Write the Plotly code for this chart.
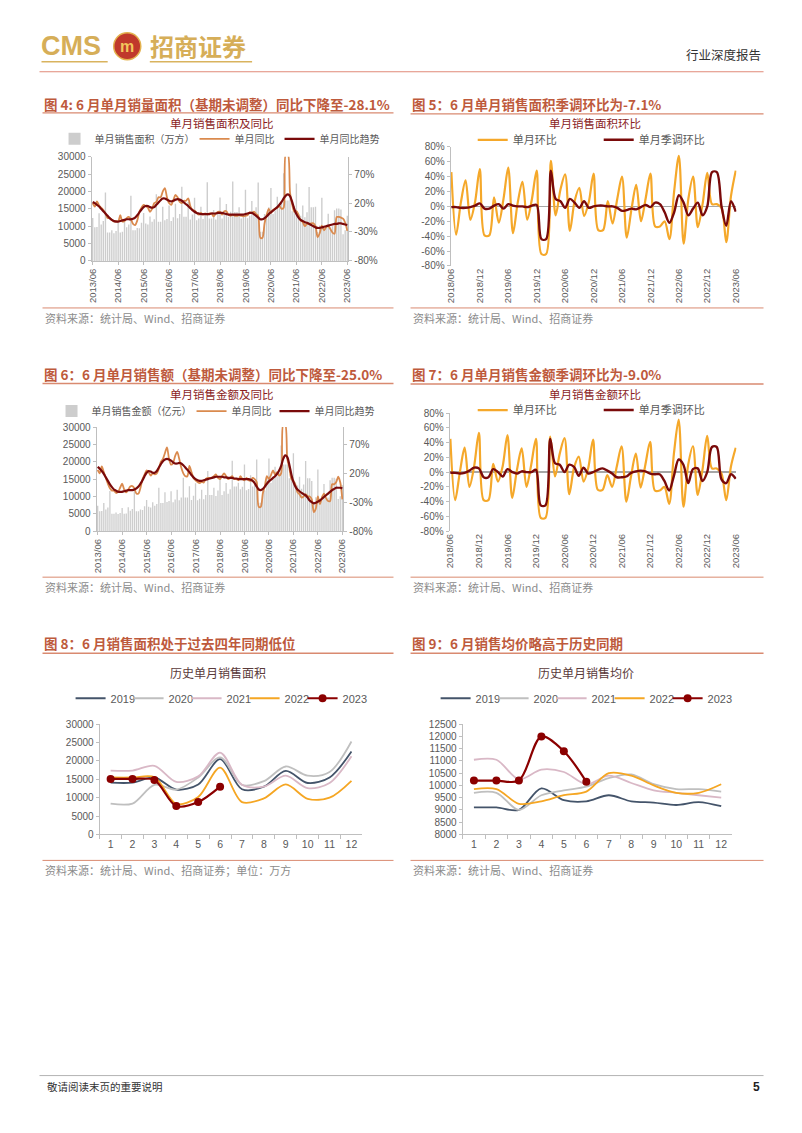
import plotly.graph_objects as go

W, H = 802, 1133
# page-pixel -> paper coordinates (small calibration for the capture)
OX, SX = 5.6, 0.986
OY, SY = 6.3, 0.9886
def X(p): return ((p - OX) / SX) / W
def Y(p): return 1 - ((p - OY) / SY) / H

NUM = "Liberation Sans, Arial, sans-serif"
CJK = "Noto Sans CJK SC, Noto Sans CJK JP, sans-serif"
TXT = "#595959"
AX = "#BFBFBF"

# ---------------- categories ----------------
months_all = [f"{yr}/{mo:02d}" for yr in range(2013, 2024) for mo in range(1, 13)]
months_long = months_all[5:126]      # 2013/06 .. 2023/06
months_short = months_all[65:126]    # 2018/06 .. 2023/06
ticks_long = months_long[::12]
ticks_short = months_short[::6]
month_cat = ["1", "2", "3", "4", "5", "6", "7", "8", "9", "10", "11", "12"]

# ---------------- monthly sales area (万方) ----------------
area_2013 = [12400, 9700, 9800, 13700, 10500, 11500, 19700]
area_2014 = [8200, 8200, 8800, 8000, 8600, 11000, 8200, 8400, 11300, 9700, 10500, 18800]
area_2015 = [8800, 8800, 9500, 9400, 11000, 13800, 10800, 10500, 12800, 11300, 12000, 19200]
area_2016 = [11300, 11300, 15600, 11700, 12100, 16000, 11500, 12600, 16500, 12300, 13500, 21400]
area_2017 = [12700, 12700, 17000, 11900, 13400, 18200, 11700, 12200, 15600, 12100, 13700, 22700]
area_2018 = [12200, 12200, 14700, 11900, 13800, 18300, 12200, 13500, 16400, 12700, 14200, 22900]
area_2019 = [14100, 14100, 15500, 12200, 13600, 20500, 12300, 13000, 17300, 14000, 15500, 22600]
area_2020 = [8400, 8400, 13500, 12200, 15500, 21000, 13500, 14500, 18500, 16000, 17000, 25300]
area_2021 = [17400, 17400, 18700, 14300, 15800, 22300, 13500, 13000, 16000, 12600, 14000, 21300]
area_2022 = [15500, 15500, 15600, 8300, 10200, 18200, 8800, 9800, 13600, 9700, 10000, 14600]
area_2023 = [15100, 15100, 14800, 7700, 8800, 13000]

# ---------------- monthly sales amount (亿元) ----------------
amt_2013 = [7300, 5700, 5800, 8100, 6200, 6800, 11600]
amt_2014 = [5000, 5000, 5400, 4900, 5200, 6700, 5000, 5100, 6900, 5900, 6400, 11500]
amt_2015 = [5700, 5700, 6200, 6100, 7200, 9000, 7000, 6800, 8300, 7300, 7800, 12500]
amt_2016 = [8100, 8100, 11200, 8400, 8700, 11500, 8300, 9100, 11900, 8900, 9700, 15400]
amt_2017 = [9700, 9700, 12900, 9000, 10200, 13800, 8900, 9300, 11900, 9200, 10400, 17300]
amt_2018 = [10400, 10400, 12500, 10100, 11700, 15600, 10400, 11500, 13900, 10800, 12100, 20300]
amt_2019 = [12830, 12830, 13950, 12050, 12780, 19170, 11810, 12160, 16090, 12880, 14450, 20680]
amt_2020 = [8150, 8150, 12150, 11710, 15190, 20900, 13910, 15150, 18590, 15760, 16750, 24670]
amt_2021 = [19230, 19230, 19170, 15230, 16670, 22410, 14040, 13130, 15680, 12220, 13440, 20240]
amt_2022 = [15270, 15270, 14430, 7760, 9790, 17750, 9240, 10190, 13600, 9410, 9700, 14670]
amt_2023 = [15400, 15400, 15100, 9240, 10030, 13200]

# ---------------- YoY of area (fraction) ----------------
yoy_area = [0.20, 0.14, 0.23, 0.16, 0.12, 0.08, 0.02,
            -0.06, -0.06, -0.09, -0.12, -0.11, -0.12, -0.01, -0.12, -0.11, -0.06, -0.04, -0.08,
            -0.16, -0.18, -0.10, 0.05, 0.12, 0.17, 0.15, 0.12, 0.05, 0.10, 0.20, 0.22,
            0.30, 0.30, 0.40, 0.46, 0.30, 0.20, 0.17, 0.25, 0.34, 0.30, 0.22, 0.20,
            0.24, 0.24, 0.28, 0.15, 0.08, 0.07, 0.03, 0.00, 0.03, 0.00, 0.02, 0.00,
            0.02, 0.02, -0.03, 0.02, 0.05, 0.05, 0.00, 0.06, 0.06, 0.00, -0.02, 0.00,
            -0.02, -0.02, -0.01, -0.02, -0.03, -0.02, -0.01, 0.04, 0.03, 0.05, 0.01, -0.02,
            -0.40, -0.40, -0.15, 0.00, 0.10, 0.03, 0.08, 0.10, 0.12, 0.15, 0.10, 0.12,
            1.05, 1.05, 0.38, 0.18, 0.05, 0.06, 0.00, -0.10, -0.13, -0.20, -0.16, -0.16,
            -0.15, -0.15, -0.20, -0.39, -0.32, -0.19, -0.27, -0.22, -0.20, -0.25, -0.31, -0.33,
            -0.04, -0.04, -0.05, -0.07, -0.14, -0.281]
trend_area = [0.22, 0.20, 0.17, 0.14, 0.10, 0.06, 0.02,
              -0.02, -0.06, -0.09, -0.11, -0.12, -0.12, -0.11, -0.10, -0.09, -0.08, -0.08, -0.08,
              -0.07, -0.05, -0.01, 0.04, 0.09, 0.13, 0.15, 0.15, 0.13, 0.12, 0.13, 0.17,
              0.21, 0.25, 0.28, 0.28, 0.26, 0.24, 0.23, 0.24, 0.26, 0.27, 0.26, 0.24,
              0.21, 0.18, 0.15, 0.11, 0.08, 0.05, 0.03, 0.02, 0.01, 0.01, 0.01, 0.01,
              0.01, 0.02, 0.02, 0.02, 0.03, 0.03, 0.03, 0.02, 0.01, 0.00, 0.00, 0.00,
              0.00, 0.00, 0.00, 0.00, 0.00, 0.01, 0.02, 0.03, 0.03, 0.01, -0.02, -0.05,
              -0.08, -0.08, -0.06, -0.03, 0.01, 0.04, 0.07, 0.10, 0.13, 0.17, 0.22, 0.28,
              0.33, 0.35, 0.32, 0.22, 0.10, 0.01, -0.05, -0.09, -0.11, -0.13, -0.14, -0.16,
              -0.18, -0.20, -0.22, -0.23, -0.23, -0.22, -0.21, -0.20, -0.19, -0.18, -0.17, -0.16,
              -0.16, -0.15, -0.15, -0.16, -0.17, -0.18]

# ---------------- YoY of amount (fraction) ----------------
yoy_amt = [0.26, 0.20, 0.32, 0.22, 0.12, 0.02, -0.06,
           -0.10, -0.10, -0.14, -0.12, -0.05, 0.02, -0.08, -0.13, -0.08, -0.03, -0.02, -0.06,
           -0.15, -0.15, -0.05, 0.10, 0.18, 0.25, 0.22, 0.16, 0.20, 0.18, 0.20, 0.28,
           0.40, 0.45, 0.55, 0.65, 0.45, 0.35, 0.38, 0.50, 0.57, 0.45, 0.30, 0.20,
           0.15, 0.15, 0.33, 0.22, 0.12, 0.08, 0.05, 0.03, 0.05, 0.04, 0.10, 0.12,
           0.12, 0.12, 0.15, 0.18, 0.12, 0.10, 0.15, 0.20, 0.15, 0.10, 0.12, 0.15,
           0.10, 0.10, 0.08, 0.15, 0.10, 0.08, 0.12, 0.08, 0.07, 0.12, 0.10, 0.05,
           -0.38, -0.38, -0.15, -0.02, 0.15, 0.10, 0.17, 0.25, 0.18, 0.22, 0.16, 0.20,
           1.05, 1.05, 0.45, 0.30, 0.10, 0.07, 0.00, -0.13, -0.16, -0.22, -0.20, -0.16,
           -0.20, -0.20, -0.25, -0.47, -0.41, -0.20, -0.33, -0.22, -0.15, -0.23, -0.28, -0.28,
           0.01, 0.01, 0.05, 0.14, 0.04, -0.25]
trend_amt = [0.31, 0.28, 0.24, 0.19, 0.13, 0.07, 0.01,
             -0.04, -0.08, -0.10, -0.12, -0.12, -0.12, -0.11, -0.10, -0.09, -0.09, -0.09, -0.08,
             -0.06, -0.03, 0.02, 0.08, 0.15, 0.21, 0.24, 0.23, 0.21, 0.21, 0.24, 0.30,
             0.36, 0.41, 0.44, 0.45, 0.44, 0.42, 0.39, 0.37, 0.37, 0.38, 0.37, 0.34,
             0.30, 0.26, 0.22, 0.17, 0.13, 0.10, 0.08, 0.07, 0.07, 0.08, 0.09, 0.10,
             0.11, 0.12, 0.13, 0.14, 0.14, 0.14, 0.14, 0.13, 0.13, 0.12, 0.12, 0.12,
             0.11, 0.11, 0.10, 0.10, 0.10, 0.10, 0.10, 0.10, 0.09, 0.07, 0.03, -0.03,
             -0.08, -0.09, -0.07, -0.03, 0.02, 0.06, 0.09, 0.12, 0.15, 0.19, 0.25, 0.33,
             0.45, 0.51, 0.48, 0.35, 0.18, 0.05, -0.03, -0.08, -0.11, -0.14, -0.16, -0.18,
             -0.22, -0.27, -0.30, -0.32, -0.31, -0.29, -0.27, -0.24, -0.21, -0.18, -0.15, -0.12,
             -0.09, -0.07, -0.05, -0.05, -0.05, -0.06]

# ---------------- MoM series 2018/06 .. 2023/06 ----------------
mom_area = [0.46, -0.38, 0.05, 0.35, -0.18, 0.06, 0.50,
            -0.39, -0.39, 0.12, -0.22, 0.10, 0.52, -0.36, 0.05, 0.33, -0.18, 0.10, 0.48,
            -0.64, -0.64, 0.61, -0.12, 0.22, 0.43, -0.33, 0.07, 0.25, -0.13, 0.06, 0.44,
            -0.32, -0.32, 0.07, -0.23, 0.10, 0.40, -0.42, -0.04, 0.29, -0.20, 0.11, 0.44,
            -0.27, -0.27, -0.20, -0.44, 0.20, 0.68, -0.50, 0.10, 0.40, -0.28, 0.03, 0.45,
            0.03, 0.03, -0.02, -0.48, 0.14, 0.48]
sa_area = [-0.01, -0.01, -0.02, -0.02, -0.01, 0.01, 0.04,
           -0.03, -0.03, 0.01, 0.03, -0.03, 0.03, 0.01, 0.00, 0.00, -0.01, 0.01, 0.02,
           -0.44, -0.44, 0.48, 0.10, 0.07, -0.02, 0.10, 0.05, -0.02, 0.07, -0.02, 0.00,
           0.01, 0.01, 0.00, 0.00, -0.02, -0.06, -0.05, -0.03, -0.04, -0.01, 0.02, -0.01,
           0.05, 0.03, -0.08, -0.22, -0.08, 0.15, 0.05, -0.12, -0.03, 0.05, -0.12, 0.00,
           0.46, 0.46, 0.00, -0.26, 0.07, -0.071]
mom_amt = [0.45, -0.38, 0.00, 0.33, -0.20, 0.08, 0.53,
           -0.38, -0.38, 0.11, -0.13, 0.08, 0.50, -0.35, 0.03, 0.32, -0.20, 0.10, 0.45,
           -0.62, -0.62, 0.48, -0.06, 0.25, 0.46, -0.30, 0.06, 0.21, -0.13, 0.06, 0.44,
           -0.24, -0.24, -0.04, -0.20, 0.08, 0.35, -0.40, -0.05, 0.25, -0.21, 0.10, 0.41,
           -0.25, -0.25, -0.20, -0.43, 0.25, 0.71, -0.47, 0.10, 0.35, -0.31, 0.03, 0.49,
           0.05, 0.05, -0.02, -0.38, 0.08, 0.33]
sa_amt = [-0.01, -0.01, -0.02, -0.01, 0.02, 0.06, 0.05,
          -0.07, -0.07, 0.04, 0.00, -0.06, 0.04, 0.00, -0.02, 0.01, 0.00, 0.00, 0.03,
          -0.45, -0.45, 0.45, 0.12, 0.10, 0.00, 0.10, 0.07, -0.05, 0.06, -0.02, 0.00,
          0.03, 0.05, 0.02, -0.02, -0.07, -0.07, -0.06, -0.01, 0.01, 0.02, 0.01, -0.02,
          -0.03, -0.03, -0.12, -0.25, -0.05, 0.17, 0.10, -0.15, 0.04, 0.05, -0.12, 0.00,
          0.34, 0.34, -0.10, -0.15, -0.03, -0.09]

# ---------------- average price (元/平) ----------------
price_2019 = [9100, 9100, 9000, 9880, 9400, 9350, 9600, 9350, 9300, 9200, 9320, 9150]
price_2020 = [9700, 9700, 9000, 9600, 9800, 9950, 10300, 10450, 10050, 9850, 9850, 9750]
price_2021 = [11050, 11050, 10250, 10650, 10550, 10050, 10400, 10100, 9800, 9700, 9600, 9500]
price_2022 = [9850, 9850, 9250, 9350, 9600, 9750, 10500, 10400, 10000, 9700, 9700, 10050]
price_2023 = [10200, 10200, 10200, 12000, 11400, 10150]

area_hist = area_2013 + area_2014 + area_2015 + area_2016 + area_2017 + area_2018 + \
    area_2019 + area_2020 + area_2021 + area_2022 + area_2023
amt_hist = amt_2013 + amt_2014 + amt_2015 + amt_2016 + amt_2017 + amt_2018 + \
    amt_2019 + amt_2020 + amt_2021 + amt_2022 + amt_2023
assert len(area_hist) == 121 and len(amt_hist) == 121
assert len(yoy_area) == 121 and len(trend_area) == 121
assert len(yoy_amt) == 121 and len(trend_amt) == 121
assert len(mom_area) == 61 and len(sa_area) == 61 and len(mom_amt) == 61 and len(sa_amt) == 61

years = ["2019", "2020", "2021", "2022", "2023"]
area_years = [area_2019, area_2020, area_2021, area_2022, area_2023]
price_years = [price_2019, price_2020, price_2021, price_2022, price_2023]
year_colors = ["#44546A", "#BFBFBF", "#D9B8C6", "#F5A623", "#8B0000"]

# ---------------- colours ----------------
BAR = "#CDCDCD"
ORANGE_YOY = "#DA8A4E"
DARKRED = "#7A0A0A"
ORANGE_MOM = "#F5A82A"
TITLE_RED = "#BE5A3C"
LINE_RED = "#D98A70"
CHART_TITLE = "#8B1E1E"

fig = go.Figure()

# ---- chart 4 ----
fig.add_trace(go.Bar(x=months_long, y=area_hist, marker_color=BAR, marker_line_width=0,
                     name="单月销售面积（万方）", xaxis="x", yaxis="y", legend="legend", legendwidth=95))
fig.add_trace(go.Scatter(x=months_long, y=yoy_area, mode="lines", name="单月同比",
                         line=dict(color=ORANGE_YOY, width=1.8, shape="spline", smoothing=0.8),
                         xaxis="x", yaxis="y2", legend="legend", legendwidth=40))
fig.add_trace(go.Scatter(x=months_long, y=trend_area, mode="lines", name="单月同比趋势",
                         line=dict(color=DARKRED, width=2.2, shape="spline", smoothing=0.8),
                         xaxis="x", yaxis="y2", legend="legend", legendwidth=62))

# ---- chart 5 ----
fig.add_trace(go.Scatter(x=months_short, y=mom_area, mode="lines", name="单月环比",
                         line=dict(color=ORANGE_MOM, width=2.2, shape="spline", smoothing=0.9),
                         xaxis="x2", yaxis="y3", legend="legend2", legendwidth=81))
fig.add_trace(go.Scatter(x=months_short, y=sa_area, mode="lines", name="单月季调环比",
                         line=dict(color=DARKRED, width=2.4, shape="spline", smoothing=0.9),
                         xaxis="x2", yaxis="y3", legend="legend2", legendwidth=70))

# ---- chart 6 ----
fig.add_trace(go.Bar(x=months_long, y=amt_hist, marker_color=BAR, marker_line_width=0,
                     name="单月销售金额（亿元）", xaxis="x3", yaxis="y4", legend="legend3", legendwidth=95))
fig.add_trace(go.Scatter(x=months_long, y=yoy_amt, mode="lines", name="单月同比",
                         line=dict(color=ORANGE_YOY, width=1.8, shape="spline", smoothing=0.8),
                         xaxis="x3", yaxis="y5", legend="legend3", legendwidth=38))
fig.add_trace(go.Scatter(x=months_long, y=trend_amt, mode="lines", name="单月同比趋势",
                         line=dict(color=DARKRED, width=2.2, shape="spline", smoothing=0.8),
                         xaxis="x3", yaxis="y5", legend="legend3", legendwidth=62))

# ---- chart 7 ----
fig.add_trace(go.Scatter(x=months_short, y=mom_amt, mode="lines", name="单月环比",
                         line=dict(color=ORANGE_MOM, width=2.2, shape="spline", smoothing=0.9),
                         xaxis="x4", yaxis="y6", legend="legend4", legendwidth=81))
fig.add_trace(go.Scatter(x=months_short, y=sa_amt, mode="lines", name="单月季调环比",
                         line=dict(color=DARKRED, width=2.4, shape="spline", smoothing=0.9),
                         xaxis="x4", yaxis="y6", legend="legend4", legendwidth=70))

# ---- chart 8 & 9 ----
for yr, vals, col in zip(years, area_years, year_colors):
    last = yr == "2023"
    fig.add_trace(go.Scatter(x=month_cat[:len(vals)], y=vals, name=yr,
                             mode="lines+markers" if last else "lines",
                             marker=dict(size=8, color=col),
                             line=dict(color=col, width=2.2 if last else 1.8, shape="spline", smoothing=0.9),
                             xaxis="x5", yaxis="y7", legend="legend5", legendwidth=30 if last else 13))
for yr, vals, col in zip(years, price_years, year_colors):
    last = yr == "2023"
    fig.add_trace(go.Scatter(x=month_cat[:len(vals)], y=vals, name=yr,
                             mode="lines+markers" if last else "lines",
                             marker=dict(size=8, color=col),
                             line=dict(color=col, width=2.2 if last else 1.8, shape="spline", smoothing=0.9),
                             xaxis="x6", yaxis="y8", legend="legend6", legendwidth=30 if last else 13))

tickfont = dict(family=NUM, size=10, color=TXT)
xtickfont = dict(family=NUM, size=9.5, color=TXT)

def xcat_long(l, r, anchor):
    return dict(domain=[X(l), X(r)], anchor=anchor, type="category", range=[-0.5, 120.5],
                tickmode="array", tickvals=ticks_long, ticktext=ticks_long, tickangle=-90,
                tickfont=xtickfont, showline=True, linecolor=AX, linewidth=1, ticks="outside",
                ticklen=3, tickcolor=AX, showgrid=False, zeroline=False, fixedrange=True)

def xcat_short(l, r, anchor):
    return dict(domain=[X(l), X(r)], anchor=anchor, type="category", range=[-0.15, 60.15],
                tickmode="array", tickvals=ticks_short, ticktext=ticks_short, tickangle=-90,
                tickfont=xtickfont, showline=False, ticks="", showgrid=False, zeroline=False)

def yleft(top, bot, rng, dtick, anchor):
    return dict(domain=[Y(bot), Y(top)], anchor=anchor, range=rng, dtick=dtick, tickformat="d",
                tickfont=tickfont, showline=True, linecolor=AX, ticks="outside", ticklen=3,
                tickcolor=AX, showgrid=False, zeroline=False)

def yright(over, anchor):
    return dict(overlaying=over, side="right", anchor=anchor, range=[-0.8, 1.0],
                tickvals=[-0.8, -0.3, 0.2, 0.7], ticktext=["-80%", "-30%", "20%", "70%"],
                tickfont=tickfont, showline=True, linecolor=AX, ticks="outside", ticklen=3,
                tickcolor=AX, showgrid=False, zeroline=False)

pct_vals = [-0.8, -0.6, -0.4, -0.2, 0.0, 0.2, 0.4, 0.6, 0.8]
pct_text = ["-80%", "-60%", "-40%", "-20%", "0%", "20%", "40%", "60%", "80%"]

def ypct(top, bot, anchor):
    return dict(domain=[Y(bot), Y(top)], anchor=anchor, range=[-0.8, 0.8],
                tickvals=pct_vals, ticktext=pct_text, tickfont=tickfont,
                showline=True, linecolor=AX, ticks="outside", ticklen=3, tickcolor=AX,
                showgrid=False, zeroline=True, zerolinecolor="#A6A6A6", zerolinewidth=1.2)

def xmonth(l, r, anchor):
    return dict(domain=[X(l), X(r)], anchor=anchor, type="category", range=[-0.5, 11.5],
                tickfont=dict(family=NUM, size=10.5, color=TXT), showline=True, linecolor=AX,
                ticks="outside", ticklen=4, tickcolor=AX, tickson="boundaries",
                showgrid=False, zeroline=False)

def legend_h(x, y, size=10, fam=CJK):
    return dict(orientation="h", x=X(x), xanchor="left", y=Y(y), yanchor="middle",
                font=dict(family=fam, size=size, color=TXT), bgcolor="rgba(0,0,0,0)",
                itemwidth=30, borderwidth=0, itemclick=False, itemdoubleclick=False)

fig.update_layout(
    width=W, height=H, margin=dict(l=0, r=0, t=0, b=0),
    paper_bgcolor="white", plot_bgcolor="white", bargap=0.35,
    xaxis=xcat_long(92, 348, "y"),
    yaxis=yleft(157, 261, [0, 30000], 5000, "x"),
    yaxis2=yright("y", "x"),
    xaxis2=xcat_short(450, 735, "y3"),
    yaxis3=ypct(147, 266, "x2"),
    xaxis3=xcat_long(97, 343, "y4"),
    yaxis4=yleft(427, 531, [0, 30000], 5000, "x3"),
    yaxis5=yright("y4", "x3"),
    xaxis4=xcat_short(449, 735, "y6"),
    yaxis6=ypct(413, 531, "x4"),
    xaxis5=xmonth(100, 362, "y7"),
    yaxis7=yleft(724, 834, [0, 30000], 5000, "x5"),
    xaxis6=xmonth(462, 731, "y8"),
    yaxis8=yleft(724, 834, [8000, 12500], 500, "x6"),
    legend=legend_h(55, 139),
    legend2=legend_h(472, 140, 11),
    legend3=legend_h(52, 411),
    legend4=legend_h(472, 410, 11),
    legend5=legend_h(71, 698, 11, NUM),
    legend6=legend_h(435, 698, 11, NUM),
    showlegend=True,
)

ann = []
shapes = []

def text(x, y, s, size, color, anchor="left", family=CJK, bold=False):
    ann.append(dict(x=X(x), y=Y(y), xref="paper", yref="paper", text=f"<b>{s}</b>" if bold else s,
                    showarrow=False, xanchor=anchor, yanchor="middle",
                    font=dict(family=family, size=size, color=color)))

def hline(x0, x1, y, color, width=1.0):
    shapes.append(dict(type="line", xref="paper", yref="paper", x0=X(x0), x1=X(x1), y0=Y(y), y1=Y(y),
                       line=dict(color=color, width=width)))

# header
text(40, 46, "CMS", 27, "#D6AE58", family="Liberation Sans Narrow, Liberation Sans, sans-serif", bold=True)
shapes.append(dict(type="circle", xref="paper", yref="paper", x0=X(114), x1=X(141), y0=Y(60), y1=Y(33),
                   fillcolor="#C0392B", line=dict(color="#E3B24F", width=1.5)))
text(127.5, 46.5, "m", 16, "#F2C75C", anchor="center", family=NUM, bold=True)
text(148, 46, "招商证券", 24, "#D6AE58", bold=True)
hline(42, 108, 62, "#D9B35E", 1.5)
hline(150, 252, 62, "#D9B35E", 1.5)
text(761, 55, "行业深度报告", 12.5, "#333333", anchor="right")
hline(40, 762, 72, "#E08A78", 1.2)

# figure titles
titles = [
    (42, 104, "图 4: 6 月单月销量面积（基期未调整）同比下降至-28.1%", 43, 393, 113),
    (409, 104, "图 5：6 月单月销售面积季调环比为-7.1%", 410, 762, 114),
    (42, 374, "图 6：6 月单月销售额（基期未调整）同比下降至-25.0%", 43, 393, 383.5),
    (409, 374, "图 7：6 月单月销售金额季调环比为-9.0%", 410, 762, 384),
    (42, 643, "图 8：6 月销售面积处于过去四年同期低位", 43, 393, 653),
    (409, 643, "图 9：6 月销售均价略高于历史同期", 410, 762, 653),
]
for x, y, s, l0, l1, ly in titles:
    text(x, y, s, 13.5, TITLE_RED, bold=True)
    hline(l0, l1, ly, LINE_RED, 1.3)

# chart titles
text(222, 123, "单月销售面积及同比", 11.5, CHART_TITLE, anchor="center")
text(594, 123, "单月销售面积环比", 11.5, CHART_TITLE, anchor="center")
text(222, 393.5, "单月销售金额及同比", 11.5, CHART_TITLE, anchor="center")
text(594, 393.5, "单月销售金额环比", 11.5, CHART_TITLE, anchor="center")
text(218, 672, "历史单月销售面积", 12, "#5A3A3A", anchor="center")
text(585, 672, "历史单月销售均价", 12, "#5A3A3A", anchor="center")

# sources
SRC = "#8C8C8C"
for x0, x1, ly, ty, s in [
    (43, 393, 308, 318, "资料来源：统计局、Wind、招商证券"),
    (410, 762, 308, 318, "资料来源：统计局、Wind、招商证券"),
    (43, 393, 577, 587, "资料来源：统计局、Wind、招商证券"),
    (410, 762, 577, 587, "资料来源：统计局、Wind、招商证券"),
    (43, 393, 860, 870, "资料来源：统计局、Wind、招商证券；单位：万方"),
    (410, 762, 860, 870, "资料来源：统计局、Wind、招商证券"),
]:
    hline(x0, x1, ly, LINE_RED, 1.0)
    text(x0, ty, s, 11, SRC)

# footer
hline(40, 762, 1075, "#A0A0A0", 0.8)
text(45, 1086, "敬请阅读末页的重要说明", 10.5, "#333333")
text(760, 1086, "5", 12, "#222222", anchor="right", family=NUM, bold=True)

fig.update_layout(annotations=ann, shapes=shapes)
fig.write_html("out.html", config={"displayModeBar": False, "staticPlot": True},
               post_script="document.body.style.margin='0';document.body.style.padding='0';"
                           "document.documentElement.style.overflow='hidden';")
